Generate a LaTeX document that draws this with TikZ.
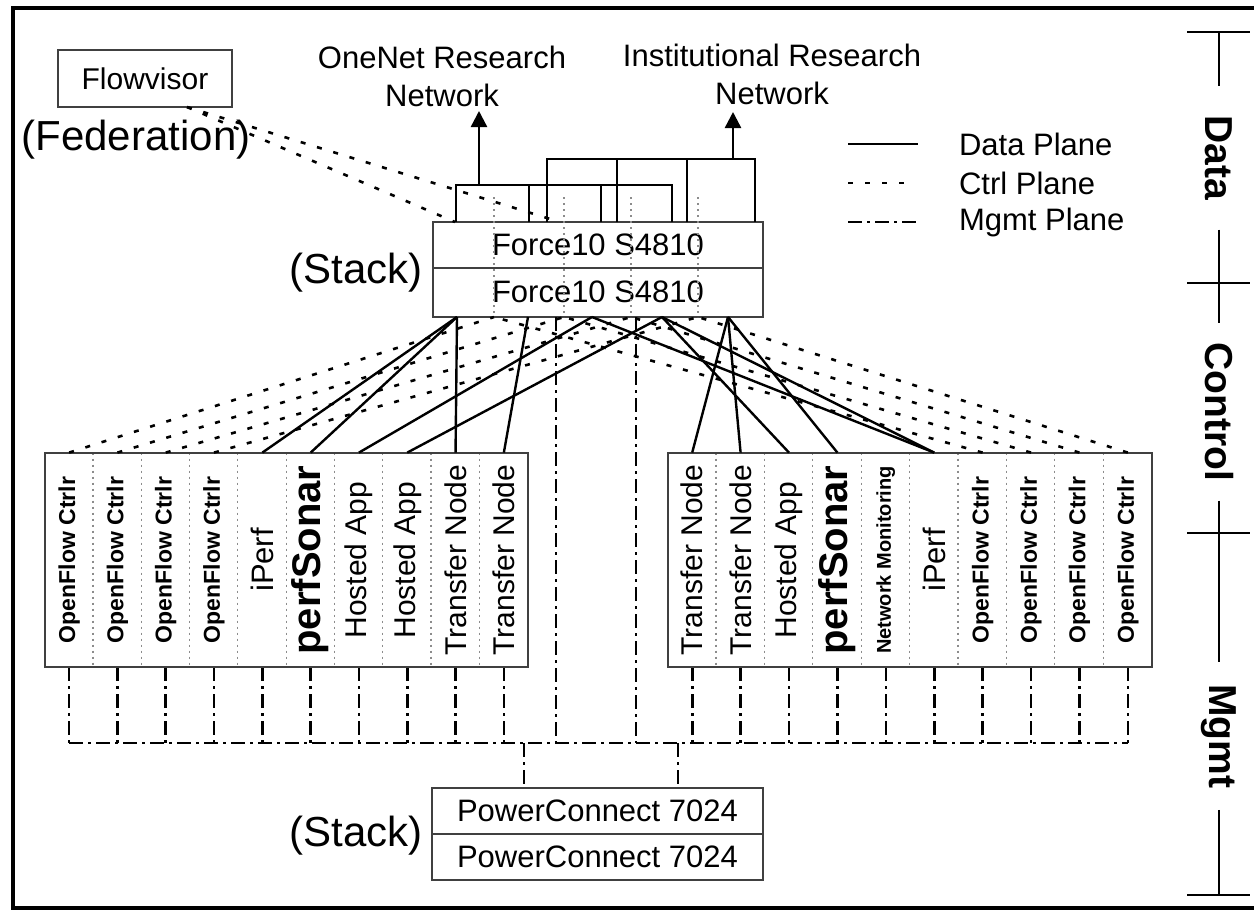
\documentclass[tikz,border=0pt]{standalone}
\usepackage{fontspec}
\setmainfont{Liberation Sans}
\usepackage{graphicx}
\usetikzlibrary{calc,arrows.meta}
\newcommand{\pixelsize}{0.5pt}
\newcommand{\fnbase}{\fontsize{15.5}{19}\selectfont}
\newcommand{\fnbig}{\fontsize{21}{25}\selectfont}
\newcommand{\fnbar}{\fontsize{19.5}{23}\selectfont\bfseries}
\newcommand{\fnofc}{\fontsize{11.5}{13}\selectfont\bfseries}
\newcommand{\fnps}{\fontsize{20}{24}\selectfont\bfseries}
\newcommand{\fnapp}{\fontsize{15}{18}\selectfont}
\newcommand{\fnnm}{\fontsize{10}{12}\selectfont\bfseries}
\newcommand{\makecol}[5]{
	\node[inner sep=0pt, minimum width=#3, minimum height=107pt, font=#4] (#1) at (#2,560) {\rotatebox{90}{#5}};
	\draw[colsep] (#1.north west) -- (#1.south west);
	\draw[mgmt] (#1.south) -- (#1 |- bus);
}
\tikzset{
	box/.style={draw=black!75, line width=1pt, inner sep=0pt},
	data/.style={line width=1.2pt},
	ctrl/.style={line width=1.3pt, dash pattern=on 2.5pt off 6pt},
	mgmt/.style={line width=1.3pt, dash pattern=on 7pt off 2.5pt on 1.5pt off 2.5pt},
	colsep/.style={black!45, line width=0.6pt, dash pattern=on 1pt off 2pt},
	barlabel/.style={rotate=-90, font=\fnbar, inner ysep=2pt},
	bar/.style={line width=1pt},
}

\begin{document}
\begin{tikzpicture}[x=\pixelsize,y=-\pixelsize,font=\fnbase]
	\useasboundingbox (0,0) rectangle (1254,911);
	\draw[line width=2pt] (1270,8) -- (13,8) -- (13,908) -- (1270,908);

	\node[box, minimum width=87pt, minimum height=28.5pt, font=\fnapp] (fv) at (145,78.5) {Flowvisor};
	\node[font=\fnbig] (fed) at (136,140) {(Federation)};
	\node[align=center] (onet) at (442,76) {OneNet Research\\Network};
	\node[align=center] (inet) at (772,74) {Institutional Research\\Network};

	\node[box, minimum width=165pt, minimum height=23pt] (fa) at (598,245) {Force10 S4810};
	\node[box, minimum width=165pt, minimum height=24.5pt] (fb) at (598,292.25) {Force10 S4810};
	\node[font=\fnbig] (fst) at (356,273) {(Stack)};
	\node[box, minimum width=165.5pt, minimum height=23pt] (pa) at (597.5,811) {PowerConnect 7024};
	\node[box, minimum width=165.5pt, minimum height=23pt] (pb) at (597.5,857) {PowerConnect 7024};
	\node[font=\fnbig] (pst) at (356,836) {(Stack)};

	\coordinate (bus) at (0,743);
	\makecol{L1}{69.15}{24.15pt}{\fnofc}{OpenFlow Ctrlr}
	\makecol{L2}{117.45}{24.15pt}{\fnofc}{OpenFlow Ctrlr}
	\makecol{L3}{165.75}{24.15pt}{\fnofc}{OpenFlow Ctrlr}
	\makecol{L4}{214.05}{24.15pt}{\fnofc}{OpenFlow Ctrlr}
	\makecol{L5}{262.35}{24.15pt}{\fnbase}{iPerf}
	\makecol{L6}{310.65}{24.15pt}{\fnps}{perfSonar}
	\makecol{L7}{358.95}{24.15pt}{\fnapp}{Hosted App}
	\makecol{L8}{407.25}{24.15pt}{\fnapp}{Hosted App}
	\makecol{L9}{455.55}{24.15pt}{\fnapp}{Transfer Node}
	\makecol{L10}{503.85}{24.15pt}{\fnapp}{Transfer Node}
	\draw[box] (L1.north west) rectangle (L10.south east);

	\makecol{R1}{692.2}{24.2pt}{\fnapp}{Transfer Node}
	\makecol{R2}{740.6}{24.2pt}{\fnapp}{Transfer Node}
	\makecol{R3}{789}{24.2pt}{\fnapp}{Hosted App}
	\makecol{R4}{837.4}{24.2pt}{\fnps}{perfSonar}
	\makecol{R5}{885.8}{24.2pt}{\fnnm}{Network Monitoring}
	\makecol{R6}{934.2}{24.2pt}{\fnbase}{iPerf}
	\makecol{R7}{982.6}{24.2pt}{\fnofc}{OpenFlow Ctrlr}
	\makecol{R8}{1031}{24.2pt}{\fnofc}{OpenFlow Ctrlr}
	\makecol{R9}{1079.4}{24.2pt}{\fnofc}{OpenFlow Ctrlr}
	\makecol{R10}{1127.8}{24.2pt}{\fnofc}{OpenFlow Ctrlr}
	\draw[box] (R1.north west) rectangle (R10.south east);

	% ports of the Force10 stack
	\coordinate (u1) at (456,222);
	\coordinate (u2) at (529,222);
	\coordinate (u3) at (601,222);
	\coordinate (u4) at (672,222);
	\coordinate (v1) at (547,222);
	\coordinate (v2) at (617,222);
	\coordinate (v3) at (687,222);
	\coordinate (v4) at (755,222);
	\coordinate (oa) at (479,185);
	\coordinate (ia) at (733,159);
	\coordinate (otip) at (479,111);
	\coordinate (itip) at (733,112);
	\coordinate (d1) at (457,317);
	\coordinate (d2) at (528,317);
	\coordinate (d3) at (592,317);
	\coordinate (d4) at (662,317);
	\coordinate (d5) at (728,317);
	\coordinate (g1) at (494,197);
	\coordinate (g2) at (564,197);
	\coordinate (g3) at (631,197);
	\coordinate (g4) at (698,197);
	\coordinate (c1) at (494,317);
	\coordinate (c2) at (564,317);
	\coordinate (c3) at (631,317);
	\coordinate (c4) at (698,317);
	\coordinate (m1) at (556,317);
	\coordinate (m2) at (636,317);
	\coordinate (k1) at (524,788);
	\coordinate (k2) at (678,788);
	\coordinate (fvp) at (187,107);
	\coordinate (f1) at (455,222);
	\coordinate (f2) at (560,222);

	\draw[data] (u1) |- (u4 |- oa) -- (u4);
	\draw[data] (u2) -- (u2 |- oa);
	\draw[data] (u3) -- (u3 |- oa);
	\draw[data, -{Triangle[width=8pt,length=8pt]}] (oa) -- (otip);
	\draw[data] (v1) |- (v4 |- ia) -- (v4);
	\draw[data] (v2) -- (v2 |- ia);
	\draw[data] (v3) -- (v3 |- ia);
	\draw[data, -{Triangle[width=8pt,length=8pt]}] (ia) -- (itip);

	\draw[ctrl] (fvp) -- (f1);
	\draw[ctrl] (fvp) -- (f2);
	\draw[colsep] (g1) -- (c1);
	\draw[colsep] (g2) -- (c2);
	\draw[colsep] (g3) -- (c3);
	\draw[colsep] (g4) -- (c4);
	\draw[ctrl] (L1.north) -- (c1);
	\draw[ctrl] (L2.north) -- (c2);
	\draw[ctrl] (L3.north) -- (c3);
	\draw[ctrl] (L4.north) -- (c4);
	\draw[ctrl] (R7.north) -- (c1);
	\draw[ctrl] (R8.north) -- (c2);
	\draw[ctrl] (R9.north) -- (c3);
	\draw[ctrl] (R10.north) -- (c4);

	\draw[data] (L5.north) -- (d1);
	\draw[data] (L6.north) -- (d1);
	\draw[data] (L9.north) -- (d1);
	\draw[data] (L10.north) -- (d2);
	\draw[data] (L7.north) -- (d3);
	\draw[data] (L8.north) -- (d4);
	\draw[data] (R1.north) -- (d5);
	\draw[data] (R2.north) -- (d5);
	\draw[data] (R4.north) -- (d5);
	\draw[data] (R3.north) -- (d4);
	\draw[data] (R6.north) -- (d3);
	\draw[data] (R6.north) -- (d4);

	\draw[mgmt] (L1 |- bus) -- (R10 |- bus);
	\draw[mgmt] (m1) -- (m1 |- bus);
	\draw[mgmt] (m2) -- (m2 |- bus);
	\draw[mgmt] (k1 |- bus) -- (k1);
	\draw[mgmt] (k2 |- bus) -- (k2);

	% legend
	\node[anchor=west] (lg1) at (952,144) {Data Plane};
	\node[anchor=west] (lg2) at (952,183) {Ctrl Plane};
	\node[anchor=west] (lg3) at (952,222) {Mgmt Plane};
	\draw[data] ($(lg1.west)+(-104,0)$) -- ++(70,0);
	\draw[ctrl] ($(lg2.west)+(-104,0)$) -- ++(60,0);
	\draw[mgmt] ($(lg3.west)+(-104,0)$) -- ++(70,0);

	% planes
	\coordinate (b0) at (1219,32);
	\coordinate (b1) at (1219,283);
	\coordinate (b2) at (1219,533);
	\coordinate (b3) at (1219,895);
	\node[barlabel, inner xsep=14.5pt] (bData) at (1219,158) {Data};
	\node[barlabel, inner xsep=9.5pt] (bCtrl) at (1219,412) {Control};
	\node[barlabel, inner xsep=10.75pt] (bMgmt) at (1219,736) {Mgmt};
	\draw[bar] (b0) -- (bData);
	\draw[bar] (bData) -- (bCtrl);
	\draw[bar] (bCtrl) -- (bMgmt);
	\draw[bar] (bMgmt) -- (b3);
	\draw[bar] ($(b0)+(-32,0)$) -- ($(b0)+(31,0)$);
	\draw[bar] ($(b1)+(-32,0)$) -- ($(b1)+(31,0)$);
	\draw[bar] ($(b2)+(-32,0)$) -- ($(b2)+(31,0)$);
	\draw[bar] ($(b3)+(-32,0)$) -- ($(b3)+(31,0)$);
\end{tikzpicture}
\end{document}
